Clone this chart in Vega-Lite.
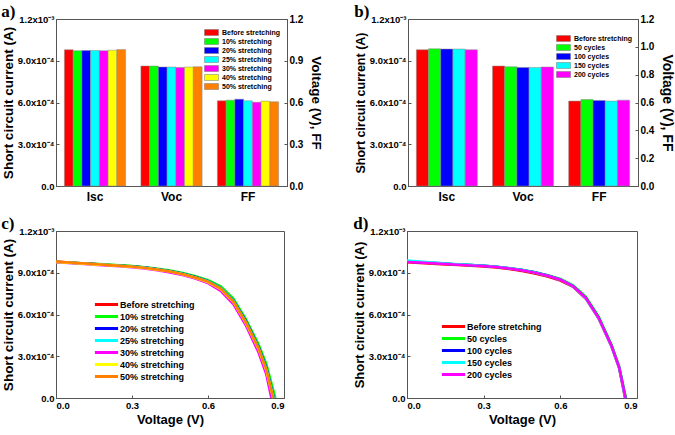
{
  "$schema": "https://vega.github.io/schema/vega-lite/v6.json",
  "padding": {"left": 0, "top": 2, "right": 0, "bottom": 0},
  "background": "white",
  "config": {
    "font": "Liberation Sans",
    "view": {"stroke": "#555", "strokeWidth": 1},
    "axis": {"grid": false, "labelFont": "Liberation Sans", "labelFontWeight": "bold", "labelColor": "black", "labelFontSize": 9.5, "titleFont": "Liberation Sans", "titleFontWeight": "bold", "titleColor": "black", "domainColor": "#555", "tickColor": "#555", "tickSize": -3, "labelPadding": 5, "titlePadding": 2},
    "legend": {"labelFont": "Liberation Sans", "labelFontWeight": "bold", "labelColor": "black"},
    "title": {"font": "Liberation Serif", "fontWeight": "bold", "fontSize": 17, "anchor": "start", "frame": "bounds", "color": "black", "offset": -7}
  },
  "datasets": {
    "barsA": [
      {"param": "Isc", "cond": "Before stretching", "value": 0.000979},
      {"param": "Isc", "cond": "10% stretching", "value": 0.000972},
      {"param": "Isc", "cond": "20% stretching", "value": 0.000974},
      {"param": "Isc", "cond": "25% stretching", "value": 0.000974},
      {"param": "Isc", "cond": "30% stretching", "value": 0.000972},
      {"param": "Isc", "cond": "40% stretching", "value": 0.000976},
      {"param": "Isc", "cond": "50% stretching", "value": 0.00098},
      {"param": "Voc", "cond": "Before stretching", "value": 0.862},
      {"param": "Voc", "cond": "10% stretching", "value": 0.862},
      {"param": "Voc", "cond": "20% stretching", "value": 0.855},
      {"param": "Voc", "cond": "25% stretching", "value": 0.855},
      {"param": "Voc", "cond": "30% stretching", "value": 0.852},
      {"param": "Voc", "cond": "40% stretching", "value": 0.855},
      {"param": "Voc", "cond": "50% stretching", "value": 0.857},
      {"param": "FF", "cond": "Before stretching", "value": 0.612},
      {"param": "FF", "cond": "10% stretching", "value": 0.617},
      {"param": "FF", "cond": "20% stretching", "value": 0.624},
      {"param": "FF", "cond": "25% stretching", "value": 0.612},
      {"param": "FF", "cond": "30% stretching", "value": 0.602},
      {"param": "FF", "cond": "40% stretching", "value": 0.61},
      {"param": "FF", "cond": "50% stretching", "value": 0.605}
    ],
    "barsB": [
      {"param": "Isc", "cond": "Before stretching", "value": 0.000979},
      {"param": "Isc", "cond": "50 cycles", "value": 0.000986},
      {"param": "Isc", "cond": "100 cycles", "value": 0.000984},
      {"param": "Isc", "cond": "150 cycles", "value": 0.000984},
      {"param": "Isc", "cond": "200 cycles", "value": 0.000979},
      {"param": "Voc", "cond": "Before stretching", "value": 0.862},
      {"param": "Voc", "cond": "50 cycles", "value": 0.857},
      {"param": "Voc", "cond": "100 cycles", "value": 0.852},
      {"param": "Voc", "cond": "150 cycles", "value": 0.852},
      {"param": "Voc", "cond": "200 cycles", "value": 0.855},
      {"param": "FF", "cond": "Before stretching", "value": 0.61},
      {"param": "FF", "cond": "50 cycles", "value": 0.621},
      {"param": "FF", "cond": "100 cycles", "value": 0.614},
      {"param": "FF", "cond": "150 cycles", "value": 0.61},
      {"param": "FF", "cond": "200 cycles", "value": 0.617}
    ],
    "ivC": [
      {"cond": "Before stretching", "V": 0, "I": 9.80e-4}, {"cond": "Before stretching", "V": 0.05, "I": 9.74e-4}, {"cond": "Before stretching", "V": 0.1, "I": 9.68e-4}, {"cond": "Before stretching", "V": 0.15, "I": 9.62e-4}, {"cond": "Before stretching", "V": 0.2, "I": 9.57e-4}, {"cond": "Before stretching", "V": 0.25, "I": 9.52e-4}, {"cond": "Before stretching", "V": 0.3, "I": 9.46e-4}, {"cond": "Before stretching", "V": 0.35, "I": 9.37e-4}, {"cond": "Before stretching", "V": 0.4, "I": 9.25e-4}, {"cond": "Before stretching", "V": 0.45, "I": 9.12e-4}, {"cond": "Before stretching", "V": 0.5, "I": 8.94e-4}, {"cond": "Before stretching", "V": 0.55, "I": 8.70e-4}, {"cond": "Before stretching", "V": 0.6, "I": 8.40e-4}, {"cond": "Before stretching", "V": 0.65, "I": 7.92e-4}, {"cond": "Before stretching", "V": 0.7, "I": 7.03e-4}, {"cond": "Before stretching", "V": 0.75, "I": 5.52e-4}, {"cond": "Before stretching", "V": 0.8, "I": 3.67e-4}, {"cond": "Before stretching", "V": 0.83, "I": 2.22e-4}, {"cond": "Before stretching", "V": 0.861, "I": 0},
      {"cond": "10% stretching", "V": 0, "I": 9.78e-4}, {"cond": "10% stretching", "V": 0.05, "I": 9.74e-4}, {"cond": "10% stretching", "V": 0.1, "I": 9.69e-4}, {"cond": "10% stretching", "V": 0.15, "I": 9.64e-4}, {"cond": "10% stretching", "V": 0.2, "I": 9.59e-4}, {"cond": "10% stretching", "V": 0.25, "I": 9.54e-4}, {"cond": "10% stretching", "V": 0.3, "I": 9.48e-4}, {"cond": "10% stretching", "V": 0.35, "I": 9.40e-4}, {"cond": "10% stretching", "V": 0.4, "I": 9.29e-4}, {"cond": "10% stretching", "V": 0.45, "I": 9.16e-4}, {"cond": "10% stretching", "V": 0.5, "I": 8.98e-4}, {"cond": "10% stretching", "V": 0.55, "I": 8.75e-4}, {"cond": "10% stretching", "V": 0.6, "I": 8.47e-4}, {"cond": "10% stretching", "V": 0.65, "I": 8.02e-4}, {"cond": "10% stretching", "V": 0.7, "I": 7.15e-4}, {"cond": "10% stretching", "V": 0.75, "I": 5.65e-4}, {"cond": "10% stretching", "V": 0.8, "I": 3.85e-4}, {"cond": "10% stretching", "V": 0.83, "I": 2.45e-4}, {"cond": "10% stretching", "V": 0.866, "I": 0},
      {"cond": "20% stretching", "V": 0, "I": 9.78e-4}, {"cond": "20% stretching", "V": 0.05, "I": 9.73e-4}, {"cond": "20% stretching", "V": 0.1, "I": 9.67e-4}, {"cond": "20% stretching", "V": 0.15, "I": 9.62e-4}, {"cond": "20% stretching", "V": 0.2, "I": 9.56e-4}, {"cond": "20% stretching", "V": 0.25, "I": 9.51e-4}, {"cond": "20% stretching", "V": 0.3, "I": 9.45e-4}, {"cond": "20% stretching", "V": 0.35, "I": 9.37e-4}, {"cond": "20% stretching", "V": 0.4, "I": 9.25e-4}, {"cond": "20% stretching", "V": 0.45, "I": 9.11e-4}, {"cond": "20% stretching", "V": 0.5, "I": 8.93e-4}, {"cond": "20% stretching", "V": 0.55, "I": 8.69e-4}, {"cond": "20% stretching", "V": 0.6, "I": 8.39e-4}, {"cond": "20% stretching", "V": 0.65, "I": 7.91e-4}, {"cond": "20% stretching", "V": 0.7, "I": 7.00e-4}, {"cond": "20% stretching", "V": 0.75, "I": 5.50e-4}, {"cond": "20% stretching", "V": 0.8, "I": 3.64e-4}, {"cond": "20% stretching", "V": 0.83, "I": 2.19e-4}, {"cond": "20% stretching", "V": 0.86, "I": 0},
      {"cond": "25% stretching", "V": 0, "I": 9.77e-4}, {"cond": "25% stretching", "V": 0.05, "I": 9.72e-4}, {"cond": "25% stretching", "V": 0.1, "I": 9.67e-4}, {"cond": "25% stretching", "V": 0.15, "I": 9.61e-4}, {"cond": "25% stretching", "V": 0.2, "I": 9.56e-4}, {"cond": "25% stretching", "V": 0.25, "I": 9.50e-4}, {"cond": "25% stretching", "V": 0.3, "I": 9.44e-4}, {"cond": "25% stretching", "V": 0.35, "I": 9.36e-4}, {"cond": "25% stretching", "V": 0.4, "I": 9.24e-4}, {"cond": "25% stretching", "V": 0.45, "I": 9.10e-4}, {"cond": "25% stretching", "V": 0.5, "I": 8.91e-4}, {"cond": "25% stretching", "V": 0.55, "I": 8.67e-4}, {"cond": "25% stretching", "V": 0.6, "I": 8.37e-4}, {"cond": "25% stretching", "V": 0.65, "I": 7.88e-4}, {"cond": "25% stretching", "V": 0.7, "I": 6.97e-4}, {"cond": "25% stretching", "V": 0.75, "I": 5.44e-4}, {"cond": "25% stretching", "V": 0.8, "I": 3.58e-4}, {"cond": "25% stretching", "V": 0.83, "I": 2.10e-4}, {"cond": "25% stretching", "V": 0.859, "I": 0},
      {"cond": "30% stretching", "V": 0, "I": 9.76e-4}, {"cond": "30% stretching", "V": 0.05, "I": 9.70e-4}, {"cond": "30% stretching", "V": 0.1, "I": 9.64e-4}, {"cond": "30% stretching", "V": 0.15, "I": 9.58e-4}, {"cond": "30% stretching", "V": 0.2, "I": 9.52e-4}, {"cond": "30% stretching", "V": 0.25, "I": 9.46e-4}, {"cond": "30% stretching", "V": 0.3, "I": 9.40e-4}, {"cond": "30% stretching", "V": 0.35, "I": 9.30e-4}, {"cond": "30% stretching", "V": 0.4, "I": 9.17e-4}, {"cond": "30% stretching", "V": 0.45, "I": 9.02e-4}, {"cond": "30% stretching", "V": 0.5, "I": 8.83e-4}, {"cond": "30% stretching", "V": 0.55, "I": 8.58e-4}, {"cond": "30% stretching", "V": 0.6, "I": 8.25e-4}, {"cond": "30% stretching", "V": 0.65, "I": 7.70e-4}, {"cond": "30% stretching", "V": 0.7, "I": 6.75e-4}, {"cond": "30% stretching", "V": 0.75, "I": 5.20e-4}, {"cond": "30% stretching", "V": 0.8, "I": 3.25e-4}, {"cond": "30% stretching", "V": 0.83, "I": 1.70e-4}, {"cond": "30% stretching", "V": 0.85, "I": 0},
      {"cond": "40% stretching", "V": 0, "I": 9.77e-4}, {"cond": "40% stretching", "V": 0.05, "I": 9.72e-4}, {"cond": "40% stretching", "V": 0.1, "I": 9.66e-4}, {"cond": "40% stretching", "V": 0.15, "I": 9.60e-4}, {"cond": "40% stretching", "V": 0.2, "I": 9.55e-4}, {"cond": "40% stretching", "V": 0.25, "I": 9.49e-4}, {"cond": "40% stretching", "V": 0.3, "I": 9.43e-4}, {"cond": "40% stretching", "V": 0.35, "I": 9.34e-4}, {"cond": "40% stretching", "V": 0.4, "I": 9.22e-4}, {"cond": "40% stretching", "V": 0.45, "I": 9.08e-4}, {"cond": "40% stretching", "V": 0.5, "I": 8.89e-4}, {"cond": "40% stretching", "V": 0.55, "I": 8.64e-4}, {"cond": "40% stretching", "V": 0.6, "I": 8.33e-4}, {"cond": "40% stretching", "V": 0.65, "I": 7.83e-4}, {"cond": "40% stretching", "V": 0.7, "I": 6.91e-4}, {"cond": "40% stretching", "V": 0.75, "I": 5.38e-4}, {"cond": "40% stretching", "V": 0.8, "I": 3.49e-4}, {"cond": "40% stretching", "V": 0.83, "I": 1.99e-4}, {"cond": "40% stretching", "V": 0.857, "I": 0},
      {"cond": "50% stretching", "V": 0, "I": 9.80e-4}, {"cond": "50% stretching", "V": 0.05, "I": 9.74e-4}, {"cond": "50% stretching", "V": 0.1, "I": 9.68e-4}, {"cond": "50% stretching", "V": 0.15, "I": 9.62e-4}, {"cond": "50% stretching", "V": 0.2, "I": 9.56e-4}, {"cond": "50% stretching", "V": 0.25, "I": 9.50e-4}, {"cond": "50% stretching", "V": 0.3, "I": 9.44e-4}, {"cond": "50% stretching", "V": 0.35, "I": 9.35e-4}, {"cond": "50% stretching", "V": 0.4, "I": 9.23e-4}, {"cond": "50% stretching", "V": 0.45, "I": 9.09e-4}, {"cond": "50% stretching", "V": 0.5, "I": 8.90e-4}, {"cond": "50% stretching", "V": 0.55, "I": 8.66e-4}, {"cond": "50% stretching", "V": 0.6, "I": 8.36e-4}, {"cond": "50% stretching", "V": 0.65, "I": 7.86e-4}, {"cond": "50% stretching", "V": 0.7, "I": 6.94e-4}, {"cond": "50% stretching", "V": 0.75, "I": 5.42e-4}, {"cond": "50% stretching", "V": 0.8, "I": 3.55e-4}, {"cond": "50% stretching", "V": 0.83, "I": 2.06e-4}, {"cond": "50% stretching", "V": 0.858, "I": 0}
    ],
    "ivD": [
      {"cond": "Before stretching", "V": 0, "I": 9.76e-4}, {"cond": "Before stretching", "V": 0.05, "I": 9.70e-4}, {"cond": "Before stretching", "V": 0.1, "I": 9.65e-4}, {"cond": "Before stretching", "V": 0.15, "I": 9.60e-4}, {"cond": "Before stretching", "V": 0.2, "I": 9.55e-4}, {"cond": "Before stretching", "V": 0.25, "I": 9.50e-4}, {"cond": "Before stretching", "V": 0.3, "I": 9.45e-4}, {"cond": "Before stretching", "V": 0.35, "I": 9.37e-4}, {"cond": "Before stretching", "V": 0.4, "I": 9.26e-4}, {"cond": "Before stretching", "V": 0.45, "I": 9.12e-4}, {"cond": "Before stretching", "V": 0.5, "I": 8.95e-4}, {"cond": "Before stretching", "V": 0.55, "I": 8.72e-4}, {"cond": "Before stretching", "V": 0.6, "I": 8.44e-4}, {"cond": "Before stretching", "V": 0.65, "I": 7.98e-4}, {"cond": "Before stretching", "V": 0.7, "I": 7.12e-4}, {"cond": "Before stretching", "V": 0.75, "I": 5.70e-4}, {"cond": "Before stretching", "V": 0.8, "I": 3.70e-4}, {"cond": "Before stretching", "V": 0.83, "I": 2.15e-4}, {"cond": "Before stretching", "V": 0.853, "I": 0},
      {"cond": "50 cycles", "V": 0, "I": 9.80e-4}, {"cond": "50 cycles", "V": 0.05, "I": 9.75e-4}, {"cond": "50 cycles", "V": 0.1, "I": 9.70e-4}, {"cond": "50 cycles", "V": 0.15, "I": 9.65e-4}, {"cond": "50 cycles", "V": 0.2, "I": 9.60e-4}, {"cond": "50 cycles", "V": 0.25, "I": 9.55e-4}, {"cond": "50 cycles", "V": 0.3, "I": 9.50e-4}, {"cond": "50 cycles", "V": 0.35, "I": 9.43e-4}, {"cond": "50 cycles", "V": 0.4, "I": 9.33e-4}, {"cond": "50 cycles", "V": 0.45, "I": 9.21e-4}, {"cond": "50 cycles", "V": 0.5, "I": 9.04e-4}, {"cond": "50 cycles", "V": 0.55, "I": 8.82e-4}, {"cond": "50 cycles", "V": 0.6, "I": 8.55e-4}, {"cond": "50 cycles", "V": 0.65, "I": 8.10e-4}, {"cond": "50 cycles", "V": 0.7, "I": 7.27e-4}, {"cond": "50 cycles", "V": 0.75, "I": 5.85e-4}, {"cond": "50 cycles", "V": 0.8, "I": 3.85e-4}, {"cond": "50 cycles", "V": 0.83, "I": 2.30e-4}, {"cond": "50 cycles", "V": 0.857, "I": 0},
      {"cond": "100 cycles", "V": 0, "I": 9.82e-4}, {"cond": "100 cycles", "V": 0.05, "I": 9.76e-4}, {"cond": "100 cycles", "V": 0.1, "I": 9.71e-4}, {"cond": "100 cycles", "V": 0.15, "I": 9.66e-4}, {"cond": "100 cycles", "V": 0.2, "I": 9.60e-4}, {"cond": "100 cycles", "V": 0.25, "I": 9.55e-4}, {"cond": "100 cycles", "V": 0.3, "I": 9.50e-4}, {"cond": "100 cycles", "V": 0.35, "I": 9.43e-4}, {"cond": "100 cycles", "V": 0.4, "I": 9.33e-4}, {"cond": "100 cycles", "V": 0.45, "I": 9.20e-4}, {"cond": "100 cycles", "V": 0.5, "I": 9.03e-4}, {"cond": "100 cycles", "V": 0.55, "I": 8.80e-4}, {"cond": "100 cycles", "V": 0.6, "I": 8.52e-4}, {"cond": "100 cycles", "V": 0.65, "I": 8.05e-4}, {"cond": "100 cycles", "V": 0.7, "I": 7.20e-4}, {"cond": "100 cycles", "V": 0.75, "I": 5.78e-4}, {"cond": "100 cycles", "V": 0.8, "I": 3.78e-4}, {"cond": "100 cycles", "V": 0.83, "I": 2.22e-4}, {"cond": "100 cycles", "V": 0.855, "I": 0},
      {"cond": "150 cycles", "V": 0, "I": 9.88e-4}, {"cond": "150 cycles", "V": 0.05, "I": 9.80e-4}, {"cond": "150 cycles", "V": 0.1, "I": 9.73e-4}, {"cond": "150 cycles", "V": 0.15, "I": 9.67e-4}, {"cond": "150 cycles", "V": 0.2, "I": 9.61e-4}, {"cond": "150 cycles", "V": 0.25, "I": 9.56e-4}, {"cond": "150 cycles", "V": 0.3, "I": 9.50e-4}, {"cond": "150 cycles", "V": 0.35, "I": 9.43e-4}, {"cond": "150 cycles", "V": 0.4, "I": 9.32e-4}, {"cond": "150 cycles", "V": 0.45, "I": 9.19e-4}, {"cond": "150 cycles", "V": 0.5, "I": 9.02e-4}, {"cond": "150 cycles", "V": 0.55, "I": 8.79e-4}, {"cond": "150 cycles", "V": 0.6, "I": 8.50e-4}, {"cond": "150 cycles", "V": 0.65, "I": 8.02e-4}, {"cond": "150 cycles", "V": 0.7, "I": 7.15e-4}, {"cond": "150 cycles", "V": 0.75, "I": 5.72e-4}, {"cond": "150 cycles", "V": 0.8, "I": 3.72e-4}, {"cond": "150 cycles", "V": 0.83, "I": 2.18e-4}, {"cond": "150 cycles", "V": 0.854, "I": 0},
      {"cond": "200 cycles", "V": 0, "I": 9.78e-4}, {"cond": "200 cycles", "V": 0.05, "I": 9.73e-4}, {"cond": "200 cycles", "V": 0.1, "I": 9.68e-4}, {"cond": "200 cycles", "V": 0.15, "I": 9.63e-4}, {"cond": "200 cycles", "V": 0.2, "I": 9.58e-4}, {"cond": "200 cycles", "V": 0.25, "I": 9.53e-4}, {"cond": "200 cycles", "V": 0.3, "I": 9.48e-4}, {"cond": "200 cycles", "V": 0.35, "I": 9.41e-4}, {"cond": "200 cycles", "V": 0.4, "I": 9.31e-4}, {"cond": "200 cycles", "V": 0.45, "I": 9.18e-4}, {"cond": "200 cycles", "V": 0.5, "I": 9.01e-4}, {"cond": "200 cycles", "V": 0.55, "I": 8.78e-4}, {"cond": "200 cycles", "V": 0.6, "I": 8.50e-4}, {"cond": "200 cycles", "V": 0.65, "I": 8.03e-4}, {"cond": "200 cycles", "V": 0.7, "I": 7.18e-4}, {"cond": "200 cycles", "V": 0.75, "I": 5.75e-4}, {"cond": "200 cycles", "V": 0.8, "I": 3.75e-4}, {"cond": "200 cycles", "V": 0.83, "I": 2.20e-4}, {"cond": "200 cycles", "V": 0.855, "I": 0}
    ]
  },
  "resolve": {"scale": {"color": "independent", "xOffset": "independent", "x": "independent", "y": "independent"}, "legend": {"color": "independent"}},
  "spacing": 11,
  "vconcat": [
    {
      "spacing": 29,
      "resolve": {"scale": {"color": "independent", "xOffset": "independent", "x": "independent", "y": "independent"}, "legend": {"color": "independent"}},
      "hconcat": [
        {
          "width": 231, "height": 167,
          "title": {"text": "a)"},
          "data": {"name": "barsA"},
          "encoding": {
            "x": {"field": "param", "type": "nominal", "scale": {"domain": ["Isc", "Voc", "FF"], "paddingInner": 0.2, "paddingOuter": 0.11}, "axis": {"title": null, "labelAngle": 0, "ticks": false, "labelFontSize": 12, "labelPadding": 5}},
            "xOffset": {"field": "cond", "type": "nominal", "scale": {"domain": ["Before stretching", "10% stretching", "20% stretching", "25% stretching", "30% stretching", "40% stretching", "50% stretching"], "paddingInner": 0, "paddingOuter": 0}},
            "color": {"field": "cond", "type": "nominal", "scale": {"domain": ["Before stretching", "10% stretching", "20% stretching", "25% stretching", "30% stretching", "40% stretching", "50% stretching"], "range": ["#ff0000", "#00ff00", "#0000ff", "#00ffff", "#ff00ff", "#ffff00", "#ff8000"]},
              "legend": {"title": null, "orient": "none", "legendX": 151, "legendY": 9, "labelFontSize": 7, "symbolType": "M-1.75,-0.75H1.75V0.75H-1.75Z", "symbolSize": 64, "symbolStrokeColor": "#777", "symbolStrokeWidth": 0.5, "rowPadding": 0, "labelOffset": 6}}
          },
          "layer": [
            {
              "transform": [{"filter": "datum.param == 'Isc'"}],
              "mark": {"type": "bar", "stroke": "#888", "strokeWidth": 0.5},
              "encoding": {"y": {"field": "value", "type": "quantitative", "scale": {"domain": [0, 0.0012]}, "axis": {"title": "Short circuit current (A)", "titleFontSize": 13.5, "values": [0, 0.0003, 0.0006, 0.0009, 0.0012], "labelExpr": "datum.value == 0 ? '0.0' : datum.value > 0.00105 ? '1.2x10⁻³' : format(datum.value * 10000, '.1f') + 'x10⁻⁴'"}}}
            },
            {
              "transform": [{"filter": "datum.param != 'Isc'"}],
              "mark": {"type": "bar", "stroke": "#888", "strokeWidth": 0.5},
              "encoding": {"y": {"field": "value", "type": "quantitative", "scale": {"domain": [0, 1.2]}, "axis": {"orient": "right", "title": "Voltage (V), FF", "titleFontSize": 13.5, "labelFontSize": 10, "values": [0, 0.3, 0.6, 0.9, 1.2], "format": ".1f", "titlePadding": 6}}}
            }
          ],
          "resolve": {"scale": {"y": "independent"}}
        },
        {
          "width": 230, "height": 167,
          "title": {"text": "b)"},
          "data": {"name": "barsB"},
          "encoding": {
            "x": {"field": "param", "type": "nominal", "scale": {"domain": ["Isc", "Voc", "FF"], "paddingInner": 0.2, "paddingOuter": 0.11}, "axis": {"title": null, "labelAngle": 0, "ticks": false, "labelFontSize": 12, "labelPadding": 5}},
            "xOffset": {"field": "cond", "type": "nominal", "scale": {"domain": ["Before stretching", "50 cycles", "100 cycles", "150 cycles", "200 cycles"], "paddingInner": 0, "paddingOuter": 0}},
            "color": {"field": "cond", "type": "nominal", "scale": {"domain": ["Before stretching", "50 cycles", "100 cycles", "150 cycles", "200 cycles"], "range": ["#ff0000", "#00ff00", "#0000ff", "#00ffff", "#ff00ff"]},
              "legend": {"title": null, "orient": "none", "legendX": 151, "legendY": 15, "labelFontSize": 7, "symbolType": "M-1.75,-0.75H1.75V0.75H-1.75Z", "symbolSize": 64, "symbolStrokeColor": "#777", "symbolStrokeWidth": 0.5, "rowPadding": 0, "labelOffset": 6}}
          },
          "layer": [
            {
              "transform": [{"filter": "datum.param == 'Isc'"}],
              "mark": {"type": "bar", "stroke": "#888", "strokeWidth": 0.5},
              "encoding": {"y": {"field": "value", "type": "quantitative", "scale": {"domain": [0, 0.0012]}, "axis": {"title": "Short circuit current (A)", "titleFontSize": 12.5, "values": [0, 0.0003, 0.0006, 0.0009, 0.0012], "labelExpr": "datum.value == 0 ? '0.0' : datum.value > 0.00105 ? '1.2x10⁻³' : format(datum.value * 10000, '.1f') + 'x10⁻⁴'"}}}
            },
            {
              "transform": [{"filter": "datum.param != 'Isc'"}],
              "mark": {"type": "bar", "stroke": "#888", "strokeWidth": 0.5},
              "encoding": {"y": {"field": "value", "type": "quantitative", "scale": {"domain": [0, 1.2]}, "axis": {"orient": "right", "title": "Voltage (V), FF", "titleFontSize": 14, "labelFontSize": 10, "values": [0, 0.2, 0.4, 0.6, 0.8, 1.0, 1.2], "format": ".1f", "titlePadding": 6}}}
            }
          ],
          "resolve": {"scale": {"y": "independent"}}
        }
      ]
    },
    {
      "spacing": 67,
      "resolve": {"scale": {"color": "independent", "x": "independent", "y": "independent"}, "legend": {"color": "independent"}},
      "hconcat": [
        {
          "width": 228, "height": 167,
          "title": {"text": "c)"},
          "data": {"name": "ivC"},
          "mark": {"type": "line", "strokeWidth": 2.5},
          "encoding": {
            "x": {"field": "V", "type": "quantitative", "scale": {"domain": [0, 0.9]}, "axis": {"title": "Voltage (V)", "titleFontSize": 13, "values": [0, 0.3, 0.6, 0.9], "format": ".1f", "titlePadding": 4}},
            "y": {"field": "I", "type": "quantitative", "scale": {"domain": [0, 0.0012]}, "axis": {"title": "Short circuit current (A)", "titleFontSize": 13.5, "values": [0, 0.0003, 0.0006, 0.0009, 0.0012], "labelExpr": "datum.value == 0 ? '0.0' : datum.value > 0.00105 ? '1.2x10⁻³' : format(datum.value * 10000, '.1f') + 'x10⁻⁴'"}},
            "color": {"field": "cond", "type": "nominal", "sort": null, "scale": {"domain": ["Before stretching", "10% stretching", "20% stretching", "25% stretching", "30% stretching", "40% stretching", "50% stretching"], "range": ["#ff0000", "#00ff00", "#0000ff", "#00ffff", "#ff00ff", "#ffff00", "#ff8000"]},
              "legend": {"title": null, "orient": "none", "legendX": 45, "legendY": 68, "labelFontSize": 9, "symbolType": "M-2.9,0H2.9", "symbolSize": 64, "symbolStrokeWidth": 3, "rowPadding": -1.5, "labelOffset": 8}}
          }
        },
        {
          "width": 230, "height": 167,
          "title": {"text": "d)"},
          "data": {"name": "ivD"},
          "mark": {"type": "line", "strokeWidth": 2.5},
          "encoding": {
            "x": {"field": "V", "type": "quantitative", "scale": {"domain": [0, 0.9]}, "axis": {"title": "Voltage (V)", "titleFontSize": 13, "values": [0, 0.3, 0.6, 0.9], "format": ".1f", "titlePadding": 4}},
            "y": {"field": "I", "type": "quantitative", "scale": {"domain": [0, 0.0012]}, "axis": {"title": "Short circuit current (A)", "titleFontSize": 13, "values": [0, 0.0003, 0.0006, 0.0009, 0.0012], "labelExpr": "datum.value == 0 ? '0.0' : datum.value > 0.00105 ? '1.2x10⁻³' : format(datum.value * 10000, '.1f') + 'x10⁻⁴'"}},
            "color": {"field": "cond", "type": "nominal", "sort": null, "scale": {"domain": ["Before stretching", "50 cycles", "100 cycles", "150 cycles", "200 cycles"], "range": ["#ff0000", "#00ff00", "#0000ff", "#00ffff", "#ff00ff"]},
              "legend": {"title": null, "orient": "none", "legendX": 41, "legendY": 90, "labelFontSize": 9, "symbolType": "M-2.9,0H2.9", "symbolSize": 64, "symbolStrokeWidth": 3, "rowPadding": -1.5, "labelOffset": 8}}
          }
        }
      ]
    }
  ]
}
